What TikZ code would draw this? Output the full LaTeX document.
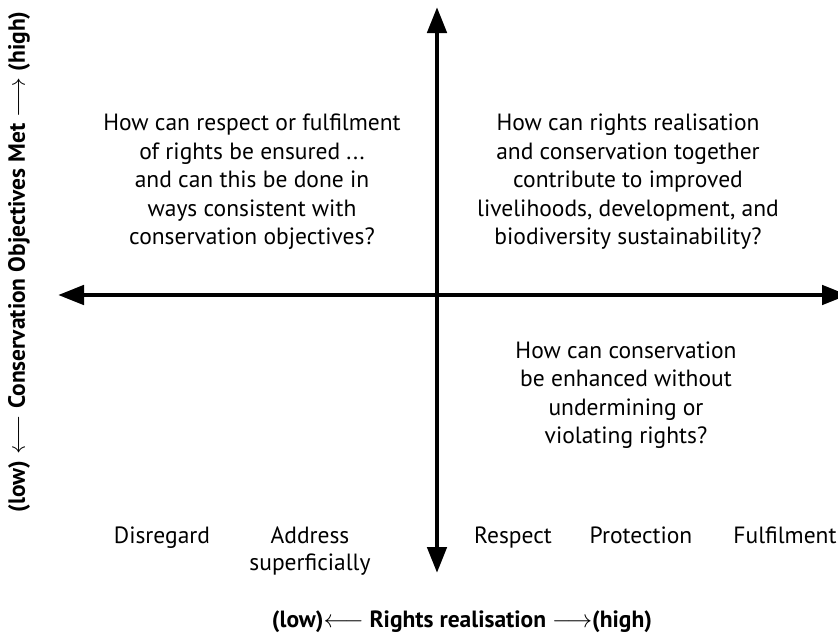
\documentclass[tikz,border=0pt]{standalone}
\usepackage{fontspec}
\setmainfont{PT Sans}
\usetikzlibrary{arrows.meta,positioning}

\begin{document}
\begin{tikzpicture}[x=1pt, y=-1pt,
    axis/.style={line width=4.7pt, {Triangle[length=26pt,width=19pt]}-{Triangle[length=26pt,width=19pt]}},
    question/.style={align=center, inner sep=0pt, font=\fontsize{23.5}{28.5}\selectfont},
    level/.style={align=center, anchor=north, inner sep=0pt, font=\fontsize{23.5}{27}\selectfont},
    axislabel/.style={inner sep=0pt, font=\bfseries\fontsize{23.5}{26}\selectfont},
]
\useasboundingbox (0,0) rectangle (838,638);

% Axes
\coordinate (top) at (437,7);
\coordinate (bottom) at (437,573);
\coordinate (west) at (58,295);
\coordinate (east) at (848,295);
\draw[axis] (bottom) -- (top);
\draw[axis] (west) -- (east);

% Quadrant questions
\node[question] (qtl) at (252,182) {How can respect or fulfilment\\of rights be ensured ...\\and can this be done in\\ways consistent with\\conservation objectives?};
\node[question] (qtr) at (628,182) {How can rights realisation\\and conservation together\\contribute to improved\\livelihoods, development, and\\biodiversity sustainability?};
\node[question] (qbr) at (626,395) {How can conservation\\be enhanced without\\undermining or\\violating rights?};

% Levels of rights realisation
\node[level] (disregard) at (162,527) {Disregard};
\node[level] (address) at (310,527) {Address\\superficially};
\node[level] (respect) at (513,527) {Respect};
\node[level] (protection) at (641,527) {Protection};
\node[level] (fulfilment) at (785,527) {Fulfilment};

% Axis labels
\node[axislabel, anchor=base] (xlabel) at (462,627) {(low)$\longleftarrow$ Rights realisation $\longrightarrow$(high)};
\node[axislabel, rotate=90] (ylabel) at (19,262) {(low) $\longleftarrow$ Conservation Objectives Met $\longrightarrow$ (high)};

\end{tikzpicture}
\end{document}
